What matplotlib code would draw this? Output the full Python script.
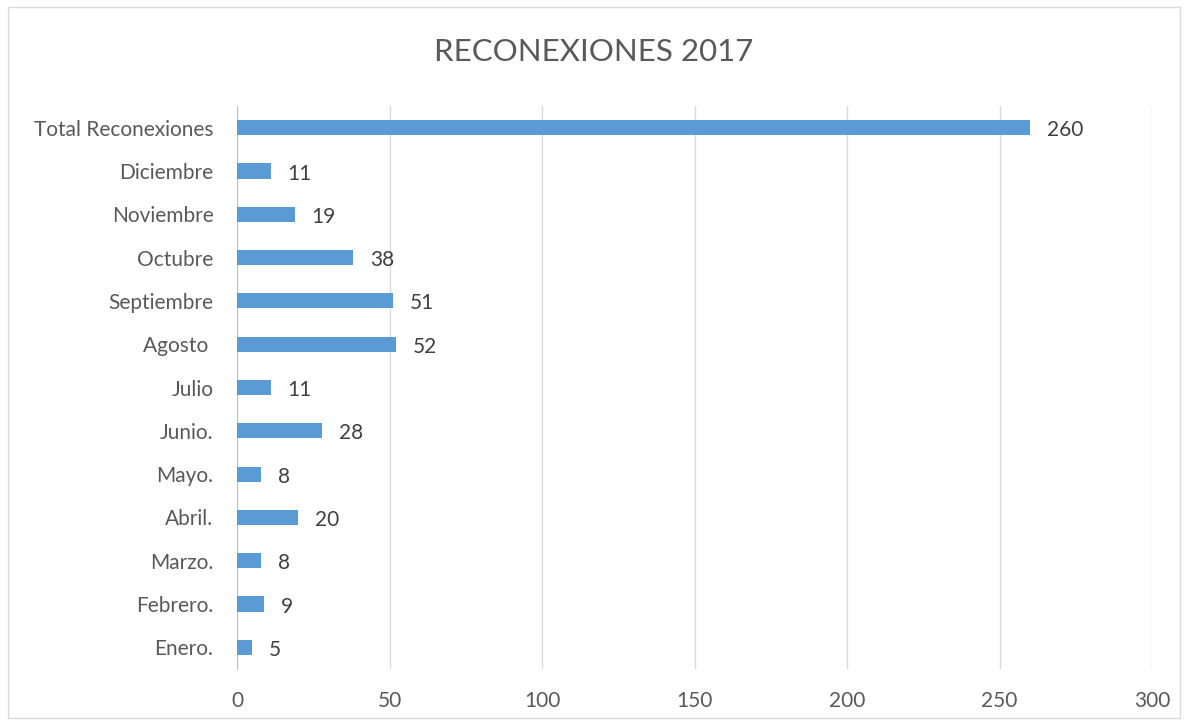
import matplotlib
matplotlib.use("Agg")
import matplotlib.pyplot as plt
from matplotlib.patches import Rectangle

categories = ["Enero.", "Febrero.", "Marzo.", "Abril.", "Mayo.", "Junio.", "Julio",
              "Agosto ", "Septiembre", "Octubre", "Noviembre", "Diciembre", "Total Reconexiones"]
values = [5, 9, 8, 20, 8, 28, 11, 52, 51, 38, 19, 11, 260]
xticks = [0, 50, 100, 150, 200, 250, 300]

plt.rcParams['font.family'] = ['Lato', 'DejaVu Sans']
text_color = '#595959'

fig = plt.figure(figsize=(11.87, 7.25), dpi=100)
fig.patches.append(Rectangle((8/1187, 7/725), 1172/1187, 711/725, transform=fig.transFigure,
                             fill=False, edgecolor='#D9D9D9', linewidth=1))
ax = fig.add_axes([237/1187, 1 - 669/725, (1152-237)/1187, (669-106)/725])

ypos = list(range(len(categories)))
ax.barh(ypos, values, height=0.35, color='#5B9BD5', zorder=3)
for y, v in zip(ypos, values):
    ax.text(v + 5.5, y - 0.06, str(v), va='center', ha='left', fontsize=15, color='#404040')

ax.set_xlim(0, 300)
ax.set_ylim(-0.5, len(categories) - 0.5)
ax.set_xticks(xticks)
ax.set_xticklabels([str(t) for t in xticks], fontsize=15, color=text_color)
ax.set_yticks(ypos)
ax.set_yticklabels(categories, fontsize=15, color=text_color)
ax.tick_params(axis='both', length=0)
ax.tick_params(axis='x', pad=16)
ax.tick_params(axis='y', pad=17)
ax.grid(axis='x', color='#D9D9D9', linewidth=1, zorder=0)
for s in ['top', 'right', 'bottom']:
    ax.spines[s].set_visible(False)
ax.spines['left'].set_color('#BFBFBF')

fig.text(0.5, 1 - 52/725, "RECONEXIONES 2017", ha='center', va='center', fontsize=22.5, color=text_color)

fig.savefig("out.png", dpi=100)
